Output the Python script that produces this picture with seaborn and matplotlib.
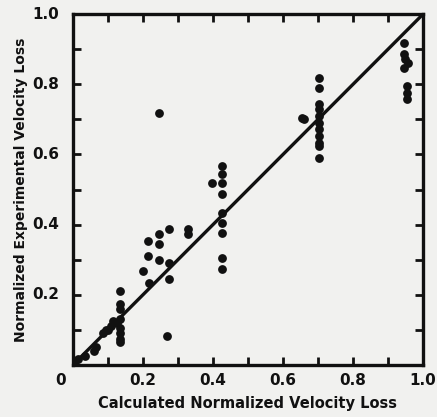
import pandas as pd
import matplotlib
matplotlib.use("Agg")
import matplotlib.pyplot as plt
import seaborn as sns

# calculated (x) vs experimental (y) normalized velocity loss
calc_low = [0.005, 0.015, 0.035, 0.06, 0.065, 0.085, 0.095, 0.10, 0.11, 0.115,
            0.125, 0.134, 0.134, 0.134, 0.134, 0.134, 0.134, 0.134, 0.134]
exp_low = [0.010, 0.018, 0.026, 0.040, 0.050, 0.090, 0.100, 0.100, 0.110, 0.125,
           0.120, 0.210, 0.175, 0.160, 0.130, 0.105, 0.090, 0.075, 0.065]

calc_mid = [0.20, 0.214, 0.214, 0.217, 0.246, 0.246, 0.246, 0.274, 0.274, 0.274,
            0.27, 0.33, 0.33, 0.246]
exp_mid = [0.268, 0.353, 0.310, 0.234, 0.373, 0.345, 0.300, 0.387, 0.290, 0.245,
           0.083, 0.387, 0.373, 0.718]

calc_04 = [0.426, 0.426, 0.426, 0.426, 0.426, 0.426, 0.426, 0.426, 0.426, 0.397]
exp_04 = [0.567, 0.544, 0.519, 0.487, 0.433, 0.405, 0.376, 0.305, 0.274, 0.519]

calc_07 = [0.703, 0.703, 0.703, 0.703, 0.703, 0.703, 0.703, 0.703, 0.703, 0.703,
           0.703, 0.654, 0.66]
exp_07 = [0.818, 0.790, 0.744, 0.730, 0.710, 0.690, 0.672, 0.652, 0.632, 0.624,
          0.590, 0.704, 0.700]

calc_095 = [0.946, 0.946, 0.948, 0.957, 0.946, 0.955, 0.955, 0.955]
exp_095 = [0.917, 0.886, 0.872, 0.860, 0.846, 0.795, 0.775, 0.758]

line_x = [0.0, 1.0]
line_y = [0.0, 1.0]

tick_vals = [0.2, 0.4, 0.6, 0.8, 1.0]
tick_text = ["0.2", "0.4", "0.6", "0.8", "1.0"]

df = pd.DataFrame({
    "calc": calc_low + calc_mid + calc_04 + calc_07 + calc_095,
    "exp": exp_low + exp_mid + exp_04 + exp_07 + exp_095,
})

sns.set_style("ticks")
plt.rcParams["font.family"] = ["DejaVu Sans"]
plt.rcParams["font.weight"] = "bold"

bg = "#f1f1ef"
ink = "#111111"

fig = plt.figure(figsize=(4.37, 4.17), dpi=100, facecolor=bg)
ax = fig.add_axes([0.167, 0.125, 0.801, 0.841])
ax.set_facecolor(bg)

sns.lineplot(x=line_x, y=line_y, ax=ax, color=ink, linewidth=2.4)
sns.scatterplot(data=df, x="calc", y="exp", ax=ax, color=ink, s=40,
                edgecolor=ink, linewidth=0)

ax.set_xlim(0, 1)
ax.set_ylim(0, 1)
ax.set_xticks([i / 10 for i in range(11)])
ax.set_yticks([i / 10 for i in range(11)])
ax.set_xticklabels([])
ax.set_yticklabels([])
ax.tick_params(direction="in", length=6, width=2, color=ink,
               top=True, right=True)
for sp in ax.spines.values():
    sp.set_linewidth(2.4)
    sp.set_color(ink)

for v, t in zip(tick_vals, tick_text):
    ax.text(v, -0.045, t, ha="center", va="center", fontsize=11,
            fontweight="bold", color=ink)
    ax.text(-0.04, v, t, ha="right", va="center", fontsize=11,
            fontweight="bold", color=ink)
ax.text(-0.035, -0.045, "0", ha="center", va="center", fontsize=11,
        fontweight="bold", color=ink)

ax.set_xlabel("Calculated Normalized Velocity Loss", fontsize=10.5,
              fontweight="bold", color=ink, labelpad=19)
ax.set_ylabel("Normalized Experimental Velocity Loss", fontsize=10,
              fontweight="bold", color=ink, labelpad=29)

fig.savefig("out.png", dpi=100, facecolor=bg)
